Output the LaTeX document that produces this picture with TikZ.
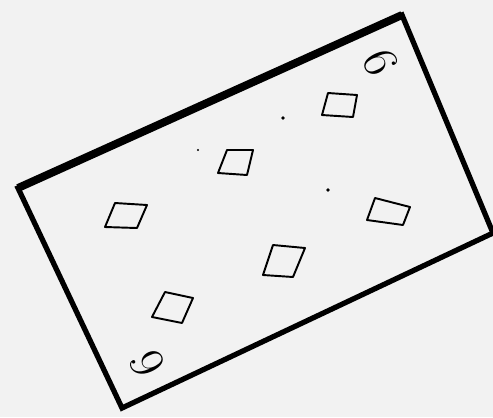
\documentclass[tikz,border=0pt]{standalone}
\usetikzlibrary{positioning}

\begin{document}
\begin{tikzpicture}[
    x=0.02cm, y=-0.02cm,
    card/.style={
        draw=black,
        line width=3pt,
        line join=miter
    },
    pip/.style={
        draw=black,
        line width=1.1pt,
        line join=round
    },
    index/.style={
        inner sep=0pt,
        font=\fontsize{28}{28}\selectfont
    },
    speck/.style={
        circle,
        fill=black,
        inner sep=0pt,
        minimum size=2.2pt
    }
]
\useasboundingbox (0,0) rectangle (493,417);
\fill[black!5] (0,0) rectangle (493,417);

% corners of the card
\coordinate (tl) at (18,188);
\coordinate (tr) at (402,15);
\coordinate (br) at (493,233);
\coordinate (bl) at (122,408);

\draw[card] (tl) -- (tr) -- (br) -- (bl) -- cycle;
\draw[card, line width=4.5pt] (tl) -- (tr);

% the six pips
\draw[pip] (328,93) -- (357,95) -- (353,117) -- (322,115) -- cycle;
\draw[pip] (227,150) -- (253,150) -- (247,175) -- (218,173) -- cycle;
\draw[pip] (115,203) -- (147,205) -- (137,228) -- (105,227) -- cycle;
\draw[pip] (375,198) -- (410,207) -- (403,225) -- (367,220) -- cycle;
\draw[pip] (273,245) -- (305,248) -- (293,277) -- (263,275) -- cycle;
\draw[pip] (165,292) -- (193,298) -- (182,323) -- (152,317) -- cycle;

% indices
\node[index, rotate=-66] (sixtop) at (381,62) {6};
\node[index, rotate=114] (sixbottom) at (147,364) {6};

% specks
\node[speck] (speckA) at (283,118) {};
\node[speck] (speckB) at (328,190) {};
\node[speck, minimum size=1.4pt] (speckC) at (198,150) {};

\end{tikzpicture}
\end{document}
